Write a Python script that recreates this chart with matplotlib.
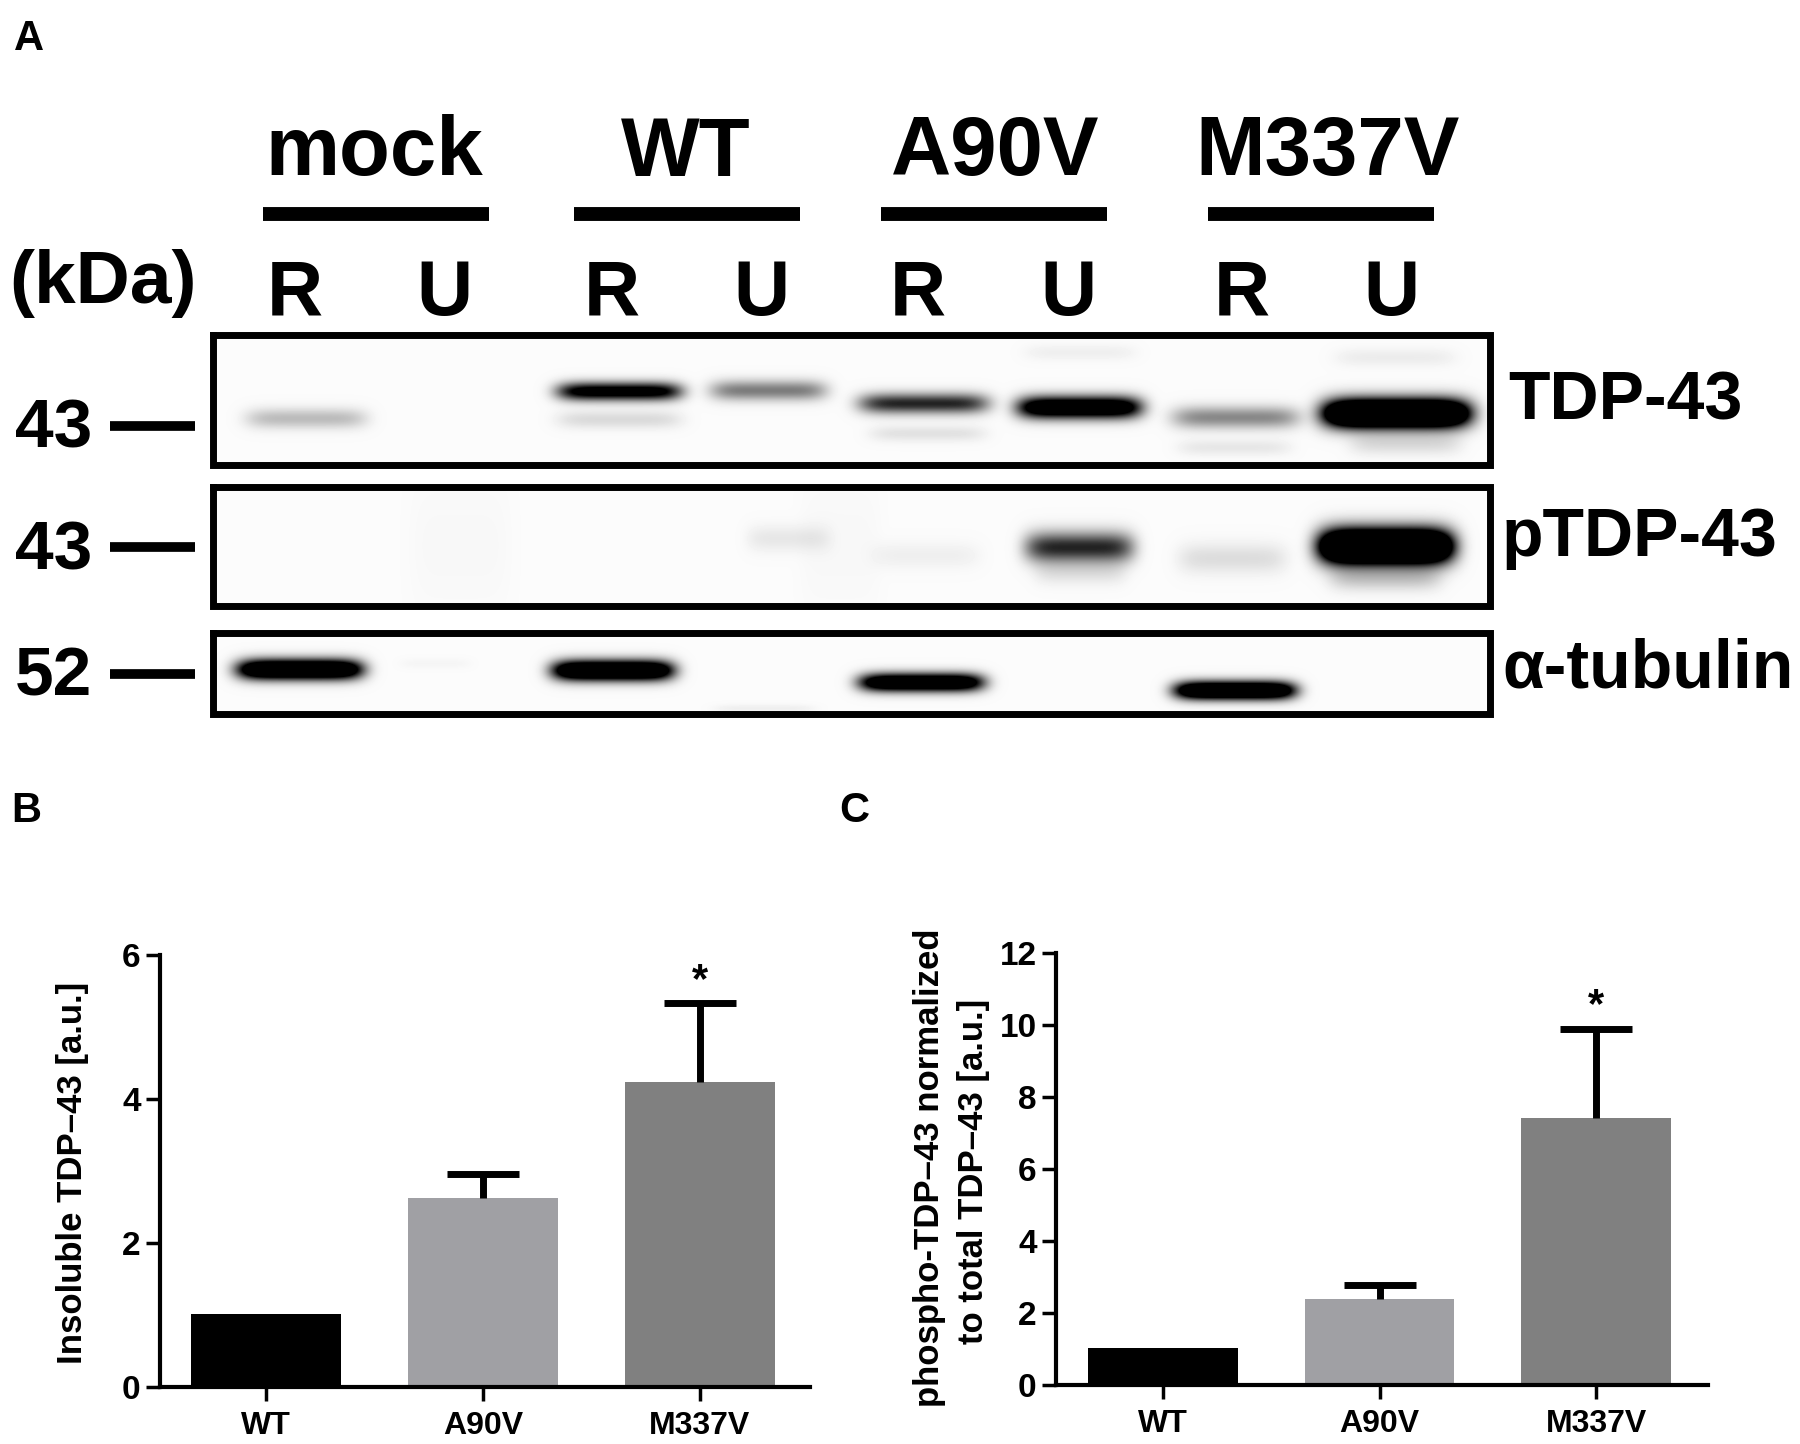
import matplotlib
matplotlib.use('Agg')
import matplotlib.pyplot as plt
import numpy as np

plt.rcParams['font.family'] = ['Liberation Sans', 'DejaVu Sans']
plt.rcParams['font.weight'] = 'bold'

W, H = 1800, 1444

groups = ['mock', 'WT', 'A90V', 'M337V']
group_x = [374, 686, 995, 1328]
group_rule_x = [(263, 489), (574, 800), (881, 1107), (1208, 1434)]
lane_labels = ['R', 'U', 'R', 'U', 'R', 'U', 'R', 'U']
lane_x = [295, 444, 612, 761, 918, 1068, 1242, 1391]
kda_labels = ['43', '43', '52']
kda_y = [426, 547, 674]
blot_names = ['TDP-43', 'pTDP-43', 'α-tubulin']
blot_name_x = [1508, 1502, 1502]
blot_name_y = [394, 531, 662]

# blot frames, outer pixel box: y top, y bottom
frame_y = [(335, 465), (487, 606), (633, 714)]

# bands: x start, x end, y centre, vertical spread, darkness
tdp_bands = [
    (246, 366, 418, 10, 0.25), (557, 681, 391, 9, 1.2), (557, 681, 419, 9, 0.13),
    (710, 826, 390, 10, 0.5), (859, 988, 403, 10, 0.85), (870, 985, 433, 8, 0.1),
    (1017, 1141, 407, 11, 1.5), (1025, 1135, 352, 8, 0.05), (1172, 1299, 417, 11, 0.45),
    (1178, 1290, 447, 8, 0.08), (1323, 1469, 413, 14, 2.4), (1335, 1455, 357, 9, 0.06),
    (1350, 1460, 443, 11, 0.13),
]
ptdp_bands = [
    (747, 830, 538, 13, 0.08), (872, 979, 555, 13, 0.05), (1025, 1133, 547, 15, 0.85),
    (1035, 1125, 572, 12, 0.1), (1178, 1286, 558, 15, 0.12), (1319, 1452, 546, 17, 2.6),
    (1330, 1440, 578, 12, 0.2), (410, 510, 545, 70, 0.015), (800, 880, 545, 70, 0.015),
]
tub_bands = [
    (237, 362, 669, 10, 1.8), (552, 673, 670, 10, 1.8), (859, 983, 682, 9, 1.6),
    (1174, 1295, 690, 9, 1.8), (714, 814, 708, 4, 0.05), (400, 470, 663, 5, 0.025),
]
all_bands = [tdp_bands, ptdp_bands, tub_bands]

bar_names = ['WT', 'A90V', 'M337V']
bar_colors = ['#000000', '#A0A0A4', '#808080']

ins_values = [1.02, 2.62, 4.235]
ins_upper = [0, 0.345, 1.10]
ins_star = 5.70
ins_ticks = [0, 2, 4, 6]

pho_values = [1.02, 2.39, 7.41]
pho_upper = [0, 0.40, 2.48]
pho_star = 10.66
pho_ticks = [0, 2, 4, 6, 8, 10, 12]

fig = plt.figure(figsize=(W / 100, H / 100), dpi=100, facecolor='white')

page = fig.add_axes([0, 0, 1, 1])


def blot(bands, top, bottom):
    yy, xx = np.mgrid[top:bottom, 210:1493]
    dark = np.zeros(xx.shape)
    for x0, x1, yc, spread, strength in bands:
        xc = (x0 + x1) / 2
        half = (x1 - x0) / 2
        dark += strength * np.exp(-((xx - xc) / half) ** 6) * np.exp(-((yy - yc) / spread) ** 2)
    return 0.985 - np.clip(dark, 0, 1)


for bands, (top, bottom) in zip(all_bands, frame_y):
    page.imshow(blot(bands, top, bottom), cmap='gray', vmin=0, vmax=1, aspect='auto',
                extent=(210, 1493, bottom, top), interpolation='bilinear')
    page.plot([213, 1490, 1490, 213, 213], [top, top, bottom, bottom, top], color='black',
              lw=5, solid_joinstyle='miter', solid_capstyle='projecting')

page.set_xlim(0, W)
page.set_ylim(H, 0)
page.axis('off')

for name, x, (x0, x1) in zip(groups, group_x, group_rule_x):
    page.text(x, 145, name, fontsize=60, ha='center', va='center_baseline')
    page.plot([x0, x1], [213.5, 213.5], color='black', lw=10, solid_capstyle='butt')

for name, x in zip(lane_labels, lane_x):
    page.text(x, 286, name, fontsize=56, ha='center', va='center_baseline')

page.text(9, 276, '(kDa)', fontsize=54, ha='left', va='center_baseline')

for name, y in zip(kda_labels, kda_y):
    page.text(15, y - 3, name, fontsize=50, ha='left', va='center_baseline')
    page.plot([110, 195], [y, y], color='black', lw=7, solid_capstyle='butt')

for name, x, y in zip(blot_names, blot_name_x, blot_name_y):
    page.text(x, y, name, fontsize=49, ha='left', va='center_baseline')

page.text(14, 34, 'A', fontsize=30, ha='left', va='center_baseline')
page.text(11, 807, 'B', fontsize=30, ha='left', va='center_baseline')
page.text(839, 807, 'C', fontsize=30, ha='left', va='center_baseline')


def bar_panel(box, xlim, values, upper, star, ticks):
    left, right, top, bottom = box
    ax = fig.add_axes([left / W, 1 - bottom / H, (right - left) / W, (bottom - top) / H])
    ax.patch.set_alpha(0)
    pos = np.arange(len(values))
    ax.bar(pos, values, width=0.69, color=bar_colors, zorder=2)
    for p, v, u in zip(pos, values, upper):
        if u > 0:
            ax.errorbar(p, v + u / 2, yerr=u / 2, color='black', elinewidth=5, capsize=0, zorder=3)
            ax.plot(p, v + u, marker='_', ms=52, mew=5, color='black', zorder=3)
    ax.text(2, star, '*', fontsize=30, ha='center', va='center_baseline')
    ax.set_xlim(*xlim)
    ax.set_ylim(0, ticks[-1])
    ax.set_xticks(pos, bar_names)
    ax.set_yticks(ticks)
    ax.tick_params(length=10, width=2.5, labelsize=24, pad=4)
    ax.tick_params(axis='x', labelsize=23, pad=7)
    ax.spines[['top', 'right']].set_visible(False)
    ax.spines[['left', 'bottom']].set_linewidth(3)
    return ax


ax_b = bar_panel((160, 810, 955, 1387), (-0.488, 2.507), ins_values, ins_upper, ins_star, ins_ticks)
ax_c = bar_panel((1056, 1708, 953, 1385), (-0.494, 2.517), pho_values, pho_upper, pho_star, pho_ticks)

page.text(73, 1173, 'Insoluble TDP–43 [a.u.]', fontsize=25, rotation=90, ha='center', va='center')
page.text(929, 1168, 'phospho-TDP–43 normalized', fontsize=25, rotation=90, ha='center', va='center')
page.text(974, 1171, 'to total TDP–43 [a.u.]', fontsize=25, rotation=90, ha='center', va='center')

fig.savefig('out.png', dpi=100)
